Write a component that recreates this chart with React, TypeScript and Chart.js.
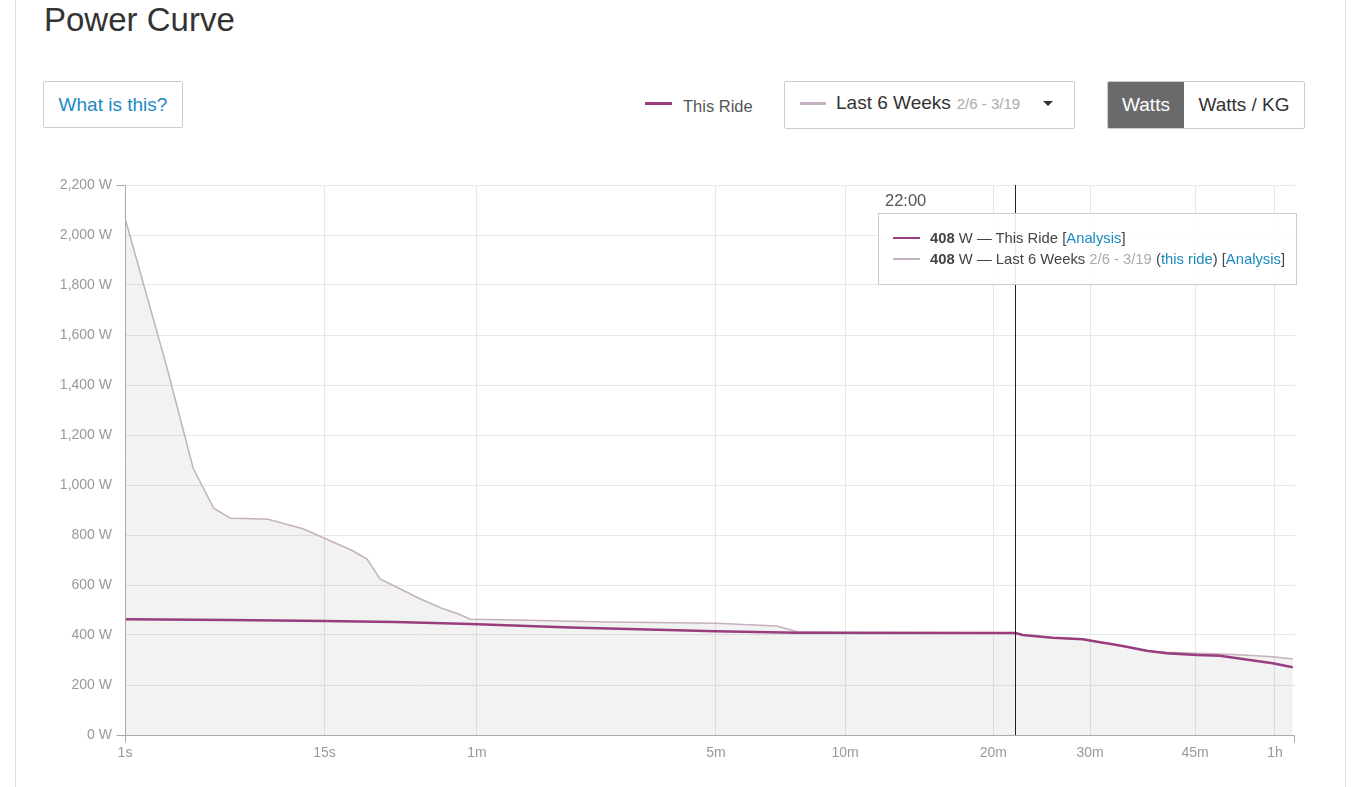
import React, { useEffect, useRef } from "react";
import { Chart, registerables } from "chart.js";

Chart.register(...registerables);

// ---- data (seconds -> watts) ----
const RIDE_SECONDS = [1, 5, 15, 30, 57, 120, 300, 470, 1320, 1362, 1544, 1748, 1818, 1968, 2080, 2248, 2426, 2716, 2955, 3211, 3571, 3830];
const RIDE_WATTS = [463, 460, 456, 452, 444, 430, 415, 409, 408, 400, 389, 383, 376, 363, 353, 337, 327, 320, 317, 304, 287, 271];

const WEEKS_SECONDS = [1, 2, 3, 4, 5, 6, 8, 12, 15, 16, 20, 23, 26, 31, 37, 45, 52, 57, 81, 153, 300, 420, 470, 600, 900, 1320, 1362, 1544, 1748, 1818, 1968, 2080, 2248, 2426, 2716, 2955, 3211, 3571, 3830];
const WEEKS_WATTS = [2067, 1480, 1067, 907, 867, 866, 863, 824, 787, 776, 737, 704, 624, 587, 547, 507, 483, 463, 460, 452, 447, 436, 413, 410, 409, 408, 400, 389, 383, 376, 363, 353, 336, 331, 327, 324, 320, 313, 304];

const X_TICK_SECONDS = [1, 15, 60, 300, 600, 1200, 1800, 2700, 3600];
const X_TICK_LABELS = ["1s", "15s", "1m", "5m", "10m", "20m", "30m", "45m", "1h"];
const X_MAX_SECONDS = 3860;
const Y_MAX = 2200;
const Y_STEP = 200;

const HOVER_SECONDS = 1320;
const HOVER_LABEL = "22:00";
const RIDE_HOVER_WATTS = 408;
const WEEKS_HOVER_WATTS = 408;

const RIDE_LABEL = "This Ride";
const WEEKS_LABEL = "Last 6 Weeks";
const WEEKS_RANGE = "2/6 - 3/19";

// power-scale transform used by the x axis (seconds^0.2)
const POWER_EXP = 0.2;
const toAxis = (s: number) => Math.pow(s, POWER_EXP);

const RIDE_COLOR = "#993d7f";
const WEEKS_COLOR = "#c4b0c0";
const LINK = "#1a8ac0";
const FONT = "'Liberation Sans', Arial, Helvetica, sans-serif";

const decorPlugin = {
  id: "decor",
  afterDatasetsDraw(chart: any) {
    const { ctx, chartArea, scales } = chart;
    const { left, right, top, bottom } = chartArea;
    ctx.save();
    const L = Math.round(left) + 0.5;
    const R = Math.round(right) - 0.5;
    const T = Math.round(top) + 0.5;
    const B = Math.round(bottom) + 0.5;
    ctx.strokeStyle = "#aaa";
    ctx.lineWidth = 1;
    ctx.beginPath();
    ctx.moveTo(L - 9, T);
    ctx.lineTo(L, T);
    ctx.lineTo(L, B);
    ctx.lineTo(L - 9, B);
    ctx.moveTo(L, B);
    ctx.lineTo(L, B + 7);
    ctx.moveTo(L, B);
    ctx.lineTo(R, B);
    ctx.lineTo(R, B + 7);
    ctx.stroke();
    const hx = Math.round(scales.x.getPixelForValue(toAxis(HOVER_SECONDS))) + 0.5;
    ctx.strokeStyle = "#222";
    ctx.beginPath();
    ctx.moveTo(hx, top);
    ctx.lineTo(hx, bottom);
    ctx.stroke();
    ctx.restore();
  },
};

function PowerChart() {
  const ref = useRef<HTMLCanvasElement | null>(null);
  useEffect(() => {
    if (!ref.current) return;
    const ride = RIDE_SECONDS.map((s, i) => ({ x: toAxis(s), y: RIDE_WATTS[i] }));
    const weeks = WEEKS_SECONDS.map((s, i) => ({ x: toAxis(s), y: WEEKS_WATTS[i] }));
    const chart = new Chart(ref.current, {
      type: "line",
      data: {
        datasets: [
          {
            label: RIDE_LABEL,
            data: ride,
            borderColor: RIDE_COLOR,
            borderWidth: 2.5,
            pointRadius: 0,
            fill: false,
            tension: 0,
            order: 0,
          },
          {
            label: WEEKS_LABEL,
            data: weeks,
            borderColor: WEEKS_COLOR,
            borderWidth: 1.5,
            backgroundColor: "rgba(0,0,0,0.05)",
            pointRadius: 0,
            fill: "origin",
            tension: 0,
            order: 1,
          },
        ],
      },
      options: {
        animation: false,
        responsive: true,
        maintainAspectRatio: false,
        events: [],
        layout: { padding: { top: 10, right: 0, bottom: 0, left: 0 } },
        plugins: { legend: { display: false }, tooltip: { enabled: false } },
        scales: {
          x: {
            type: "linear",
            min: toAxis(1),
            max: toAxis(X_MAX_SECONDS),
            afterBuildTicks: (scale: any) => {
              scale.ticks = X_TICK_SECONDS.map((s) => ({ value: toAxis(s) }));
            },
            afterFit: (scale: any) => {
              scale.height = 40;
              scale.paddingLeft = 0;
              scale.paddingRight = 0;
            },
            ticks: {
              autoSkip: false,
              maxRotation: 0,
              padding: 10,
              color: "#999",
              font: { family: FONT, size: 14 },
              callback: (_v: any, i: number) => X_TICK_LABELS[i],
            },
            grid: {
              color: (c: any) => (c.index === 0 ? "rgba(0,0,0,0)" : "#e6e6e6"),
              drawTicks: false,
              lineWidth: 1,
            },
            border: { display: false },
          },
          y: {
            type: "linear",
            min: 0,
            max: Y_MAX,
            afterFit: (scale: any) => {
              scale.width = 85;
              scale.paddingTop = 0;
              scale.paddingBottom = 0;
            },
            ticks: {
              stepSize: Y_STEP,
              padding: 13,
              color: "#999",
              font: { family: FONT, size: 14 },
              callback: (v: any) => Number(v).toLocaleString("en-US") + " W",
            },
            grid: {
              color: "#e8e8e8",
              drawTicks: false,
              lineWidth: 1,
            },
            border: { display: false },
          },
        },
      },
      plugins: [decorPlugin],
    });
    return () => chart.destroy();
  }, []);
  return <canvas ref={ref} />;
}

export default function App() {
  const abs = (s: React.CSSProperties): React.CSSProperties => ({ position: "absolute", ...s });
  return (
    <div
      style={{
        position: "absolute",
        left: 0,
        top: 0,
        width: 1358,
        height: 787,
        overflow: "hidden",
        background: "#fff",
        fontFamily: FONT,
      }}
    >
      <div
        style={abs({
          left: 15,
          top: 0,
          width: 1331,
          height: 787,
          borderLeft: "1px solid #ddd",
          borderRight: "1px solid #ddd",
          boxSizing: "border-box",
        })}
      />
      <div style={abs({ left: 44, top: 2, fontSize: 33, lineHeight: "36px", color: "#333" })}>Power Curve</div>

      <div
        style={abs({
          left: 43,
          top: 81,
          width: 140,
          height: 47,
          border: "1px solid #ccc",
          borderRadius: 2,
          boxSizing: "border-box",
          display: "flex",
          alignItems: "center",
          justifyContent: "center",
          fontSize: 19,
          color: LINK,
        })}
      >
        What is this?
      </div>

      <div style={abs({ left: 645, top: 102, width: 27, height: 3, background: RIDE_COLOR })} />
      <div style={abs({ left: 683, top: 96, fontSize: 16.5, lineHeight: "20px", color: "#555" })}>{RIDE_LABEL}</div>

      <div
        style={abs({
          left: 784,
          top: 81,
          width: 291,
          height: 48,
          border: "1px solid #ccc",
          borderRadius: 2,
          boxSizing: "border-box",
        })}
      />
      <div style={abs({ left: 800, top: 102, width: 26, height: 3, background: WEEKS_COLOR })} />
      <div style={abs({ left: 836, top: 91, fontSize: 19, lineHeight: "24px", color: "#333", whiteSpace: "nowrap" })}>
        {WEEKS_LABEL}
        <span style={{ fontSize: 15, color: "#aaa", marginLeft: 6 }}>{WEEKS_RANGE}</span>
      </div>
      <div
        style={abs({
          left: 1043,
          top: 101,
          width: 0,
          height: 0,
          borderLeft: "5px solid transparent",
          borderRight: "5px solid transparent",
          borderTop: "5px solid #333",
        })}
      />

      <div
        style={abs({
          left: 1107,
          top: 81,
          width: 198,
          height: 48,
          border: "1px solid #ccc",
          borderRadius: 2,
          boxSizing: "border-box",
          display: "flex",
          fontSize: 19,
          overflow: "hidden",
        })}
      >
        <div
          style={{
            width: 76,
            background: "#6a6a6a",
            color: "#fff",
            display: "flex",
            alignItems: "center",
            justifyContent: "center",
          }}
        >
          Watts
        </div>
        <div style={{ flex: 1, color: "#333", display: "flex", alignItems: "center", justifyContent: "center" }}>
          Watts / KG
        </div>
      </div>

      <div style={abs({ left: 40, top: 175, width: 1255, height: 600 })}>
        <PowerChart />
      </div>

      <div style={abs({ left: 885, top: 190, fontSize: 16.5, lineHeight: "20px", color: "#555" })}>{HOVER_LABEL}</div>
      <div
        style={abs({
          left: 878,
          top: 213,
          width: 419,
          height: 72,
          border: "1px solid #ccc",
          background: "rgba(255,255,255,0.9)",
          boxSizing: "border-box",
          fontSize: 14.8,
          color: "#444",
        })}
      >
        <div style={abs({ left: 14, top: 23, width: 27, height: 2, background: RIDE_COLOR })} />
        <div style={abs({ left: 51, top: 14, lineHeight: "20px", whiteSpace: "nowrap" })}>
          <b>{RIDE_HOVER_WATTS}</b> W — {RIDE_LABEL} [<span style={{ color: LINK }}>Analysis</span>]
        </div>
        <div style={abs({ left: 14, top: 44, width: 27, height: 2, background: WEEKS_COLOR })} />
        <div style={abs({ left: 51, top: 35, lineHeight: "20px", whiteSpace: "nowrap" })}>
          <b>{WEEKS_HOVER_WATTS}</b> W — {WEEKS_LABEL} <span style={{ color: "#aaa" }}>{WEEKS_RANGE}</span> (
          <span style={{ color: LINK }}>this ride</span>) [<span style={{ color: LINK }}>Analysis</span>]
        </div>
      </div>
    </div>
  );
}
